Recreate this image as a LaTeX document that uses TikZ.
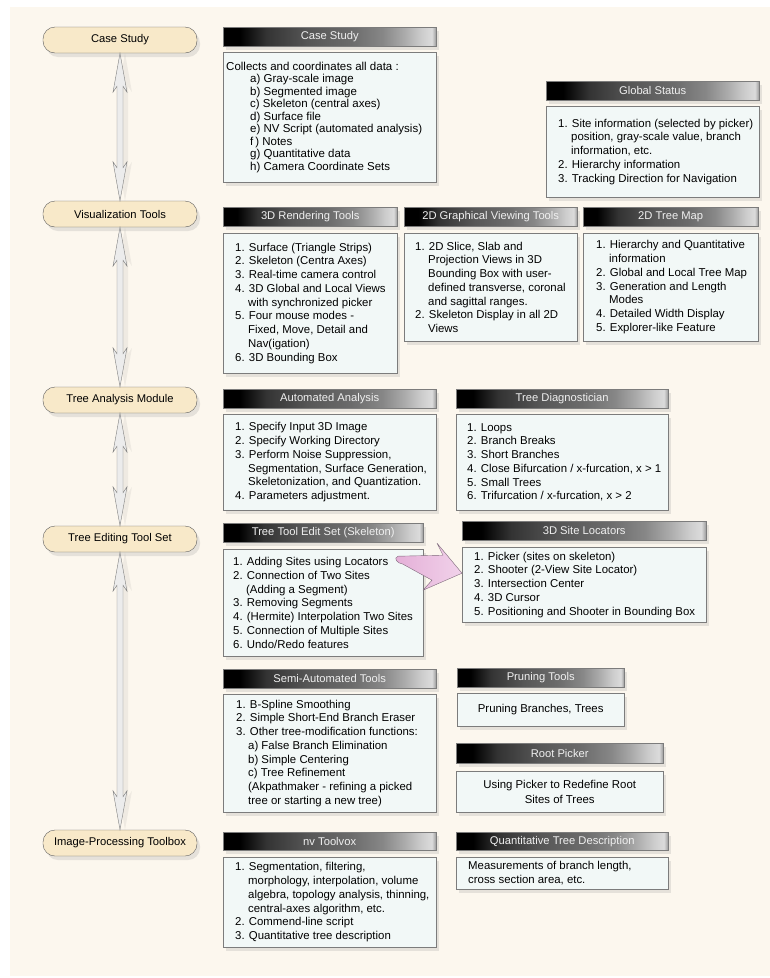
\documentclass[tikz,border=0pt]{standalone}
\usepackage{fontspec}
\setmainfont{Liberation Sans}
\usepackage{tikz}
\usetikzlibrary{calc,shadows}
\definecolor{paperc}{HTML}{FCF7EE}
\definecolor{ovalc}{HTML}{F8E9C9}
\definecolor{ovalline}{HTML}{5E5E5E}
\definecolor{boxc}{HTML}{F2F8F7}
\definecolor{boxline}{HTML}{7C7C7C}
\definecolor{bartext}{HTML}{F0F0F0}
\definecolor{shaftc}{HTML}{ECECEC}
\definecolor{shaftline}{HTML}{7E7E7E}
\definecolor{pinkc}{HTML}{E4AED7}
\definecolor{pinksoft}{HTML}{F1D2EA}
\definecolor{pinkline}{HTML}{7D6A7A}
\pgfdeclarehorizontalshading{barshade}{100bp}{color(0bp)=(black); color(25bp)=(black); color(29bp)=(black); color(35bp)=(black!80); color(45bp)=(black!66); color(55bp)=(black!58); color(62.5bp)=(black!47); color(67.5bp)=(black!33); color(71.5bp)=(black!20); color(74bp)=(black!14); color(75bp)=(black!40); color(100bp)=(black!40)}

\begin{document}
\begin{tikzpicture}[x=1pt, y=-1pt,
    soft/.style={drop shadow={shadow xshift=3pt, shadow yshift=-4pt, opacity=0.18}},
    oval/.style={draw=ovalline, fill=ovalc, rounded corners=12pt, minimum width=154pt, minimum height=26pt, inner sep=0pt, font=\fontsize{11.2}{13}\selectfont, soft},
    titlebar/.style={draw=boxline, shading=barshade, anchor=north west, minimum height=19pt, inner sep=0pt, text=bartext, font=\fontsize{11.2}{13}\selectfont, soft},
    bodybox/.style={draw=boxline, fill=boxc, anchor=north west, inner sep=0pt, soft},
    bodytext/.style={anchor=west, align=left, inner sep=0pt, font=\fontsize{11.4}{13.75}\selectfont},
    twoway/.style={draw=shaftline, fill=shaftc, line join=miter, drop shadow={shadow xshift=5pt, shadow yshift=0pt, opacity=0.1}},
    pointer/.style={draw=pinkline, left color=pinkc, right color=pinksoft, line join=round}]
    \useasboundingbox (0,0) rectangle (770,978);
    \fill[white] (0,0) rectangle (770,978);
    \fill[paperc] (10,7) rectangle (770,976);

    % stages on the left
    \node[oval] (cs) at (120,40) {Case Study};
    \node[oval] (vt) at (120,214) {Visualization Tools};
    \node[oval] (ta) at (120,400) {Tree Analysis Module};
    \node[oval] (te) at (120,539) {Tree Editing Tool Set};
    \node[oval] (ip) at (120,843) {Image-Processing Toolbox};
    \foreach \a/\b in {cs/vt, vt/ta, ta/te, te/ip}
      \draw[twoway] (\a.south) -- ++(-7,39) -- ++(4,-6) -- ($(\b.north)+(-3,-33)$) -- ++(-4,-6) -- (\b.north)
        -- ++(7,-39) -- ++(-4,6) -- ($(\a.south)+(3,33)$) -- ++(4,6) -- cycle;

    % case study
    \node[titlebar, minimum width=213pt] (cst) at (223,27) {Case Study};
    \node[bodybox, minimum width=213pt, minimum height=130pt] (csb) at (223,52) {};
    \node[bodytext, font=\fontsize{11.5}{12.5}\selectfont] (csx) at ([xshift=3]csb.west) {Collects and coordinates all data :\\
      \hspace*{24pt}a) Gray-scale image\\ \hspace*{24pt}b) Segmented image\\ \hspace*{24pt}c) Skeleton (central axes)\\
      \hspace*{24pt}d) Surface file\\ \hspace*{24pt}e) NV Script (automated analysis)\\ \hspace*{24pt}f\,) Notes\\
      \hspace*{24pt}g) Quantitative data\\ \hspace*{24pt}h) Camera Coordinate Sets};

    % global status
    \node[titlebar, minimum width=213pt] (gst) at (546,81) {Global Status};
    \node[bodybox, minimum width=213pt, minimum height=91pt] (gsb) at (546,106) {};
    \node[bodytext] (gsx) at ([xshift=12]gsb.west) {1. Site information (selected by picker)\\
      \hspace*{13pt}position, gray-scale value, branch\\ \hspace*{13pt}information, etc.\\
      2. Hierarchy information\\ 3. Tracking Direction for Navigation};

    % visualization
    \node[titlebar, minimum width=174pt] (rdt) at (223,207) {3D Rendering Tools};
    \node[bodybox, minimum width=174pt, minimum height=140pt] (rdb) at (223,233) {};
    \node[bodytext] (rdx) at ([xshift=12]rdb.west) {1. Surface (Triangle Strips)\\ 2. Skeleton (Centra Axes)\\
      3. Real-time camera control\\ 4. 3D Global and Local Views\\ \hspace*{13pt}with synchronized picker\\
      5. Four mouse modes -\\ \hspace*{13pt}Fixed, Move, Detail and\\ \hspace*{13pt}Nav(igation)\\ 6. 3D Bounding Box};

    \node[titlebar, minimum width=173pt] (gvt) at (404,207) {2D Graphical Viewing Tools};
    \node[bodybox, minimum width=173pt, minimum height=108pt] (gvb) at (404,233) {};
    \node[bodytext] (gvx) at ([xshift=11]gvb.west) {1. 2D Slice, Slab and\\ \hspace*{13pt}Projection Views in 3D\\
      \hspace*{13pt}Bounding Box with user-\\ \hspace*{13pt}defined transverse, coronal\\
      \hspace*{13pt}and sagittal ranges.\\ 2. Skeleton Display in all 2D\\ \hspace*{13pt}Views};

    \node[titlebar, minimum width=175pt] (tmt) at (583,207) {2D Tree Map};
    \node[bodybox, minimum width=175pt, minimum height=108pt] (tmb) at (583,233) {};
    \node[bodytext] (tmx) at ([xshift=13]tmb.west) {1. Hierarchy and Quantitative\\ \hspace*{13pt}information\\
      2. Global and Local Tree Map\\ 3. Generation and Length\\ \hspace*{13pt}Modes\\
      4. Detailed Width Display\\ 5. Explorer-like Feature};

    % tree analysis
    \node[titlebar, minimum width=213pt] (aat) at (223,389) {Automated Analysis};
    \node[bodybox, minimum width=213pt, minimum height=96pt] (aab) at (223,414) {};
    \node[bodytext] (aax) at ([xshift=12]aab.west) {1. Specify Input 3D Image\\ 2. Specify Working Directory\\
      3. Perform Noise Suppression,\\ \hspace*{13pt}Segmentation, Surface Generation,\\
      \hspace*{13pt}Skeletonization, and Quantization.\\ 4. Parameters adjustment.};

    \node[titlebar, minimum width=212pt] (tdt) at (456,389) {Tree Diagnostician};
    \node[bodybox, minimum width=212pt, minimum height=96pt] (tdb) at (456,414) {};
    \node[bodytext] (tdx) at ([xshift=11]tdb.west) {1. Loops\\ 2. Branch Breaks\\ 3. Short Branches\\
      4. Close Bifurcation / x-furcation, x > 1\\ 5. Small Trees\\ 6. Trifurcation / x-furcation, x > 2};

    % tree editing
    \node[titlebar, minimum width=200pt] (tet) at (223,523) {Tree Tool Edit Set (Skeleton)};
    \node[bodybox, minimum width=200pt, minimum height=107pt] (teb) at (223,549) {};
    \node[bodytext] (tex) at ([xshift=10]teb.west) {1. Adding Sites using Locators\\ 2. Connection of Two Sites\\
      \hspace*{13pt}(Adding a Segment)\\ 3. Removing Segments\\ 4. (Hermite) Interpolation Two Sites\\
      5. Connection of Multiple Sites\\ 6. Undo/Redo features};

    \node[titlebar, minimum width=244pt] (slt) at (462,521) {3D Site Locators};
    \node[bodybox, minimum width=244pt, minimum height=75pt] (slb) at (462,547) {};
    \node[bodytext] (slx) at ([xshift=12]slb.west) {1. Picker (sites on skeleton)\\ 2. Shooter (2-View Site Locator)\\
      3. Intersection Center\\ 4. 3D Cursor\\ 5. Positioning and Shooter in Bounding Box};

    \draw[pointer] ($(slb.west)+(0,-11.5)$) -- ++(-39,17) -- ++(9,-10) -- ++(-29,-16)
      .. controls +(-6,-1) and +(-5,2) .. ++(-5,-8) -- ++(45,-1) -- ++(-6,-12) -- cycle;

    \node[titlebar, minimum width=213pt] (sat) at (223,669) {Semi-Automated Tools};
    \node[bodybox, minimum width=213pt, minimum height=118pt] (sab) at (223,694) {};
    \node[bodytext] (sax) at ([xshift=13]sab.west) {1. B-Spline Smoothing\\ 2. Simple Short-End Branch Eraser\\
      3. Other tree-modification functions:\\ \hspace*{12pt}a) False Branch Elimination\\
      \hspace*{12pt}b) Simple Centering\\ \hspace*{12pt}c) Tree Refinement\\
      \hspace*{12pt}(Akpathmaker - refining a picked\\ \hspace*{12pt}tree or starting a new tree)};

    \node[titlebar, minimum width=167pt] (prt) at (457,668) {Pruning Tools};
    \node[bodybox, minimum width=167pt, minimum height=33pt, font=\fontsize{11.4}{13.75}\selectfont] (prb) at (457,693) {Pruning Branches, Trees};

    \node[titlebar, minimum width=207pt, minimum height=20pt] (rpt) at (456,743) {Root Picker};
    \node[bodybox, minimum width=207pt, minimum height=41pt, align=center, font=\fontsize{11.4}{14.5}\selectfont] (rpb) at (456,771) {Using Picker to Redefine Root\\ Sites of Trees};

    % image processing
    \node[titlebar, minimum width=213pt, minimum height=18pt] (nvt) at (223,832) {nv Toolvox};
    \node[bodybox, minimum width=213pt, minimum height=90pt] (nvb) at (223,857) {};
    \node[bodytext] (nvx) at ([xshift=12]nvb.west) {1. Segmentation, filtering,\\ \hspace*{13pt}morphology, interpolation, volume\\
      \hspace*{13pt}algebra, topology analysis, thinning,\\ \hspace*{13pt}central-axes algorithm, etc.\\
      2. Commend-line script\\ 3. Quantitative tree description};

    \node[titlebar, minimum width=212pt, minimum height=18pt] (qtt) at (456,832) {Quantitative Tree Description};
    \node[bodybox, minimum width=212pt, minimum height=32pt] (qtb) at (456,857) {};
    \node[bodytext] (qtx) at ([xshift=12]qtb.west) {Measurements of branch length,\\ cross section area, etc.};
  \end{tikzpicture}
\end{document}
